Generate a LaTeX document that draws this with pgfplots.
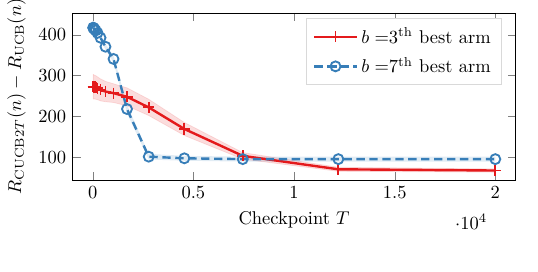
\documentclass[border=0pt]{standalone}
\usepackage{pgfplots}
\pgfplotsset{compat=1.18}
\usepgfplotslibrary{fillbetween}
\definecolor{cred}{RGB}{228,26,28}
\definecolor{cblue}{RGB}{55,126,184}
\begin{document}
\begin{tikzpicture}
\begin{axis}[
  scale only axis,
  width=239.5pt, height=90.3pt,
  xmin=-1000, xmax=21000,
  ymin=44, ymax=454,
  xtick={0,5000,10000,15000,20000},
  ytick={100,200,300,400},
  scaled x ticks=base 10:-4,
  xlabel={Checkpoint $T$},
  ylabel={$R_{\mathrm{CUCB2}T}(n)-R_{\mathrm{UCB}}(n)$},
  legend pos=north east,
  legend style={draw=black!15, font=\normalsize, row sep=2pt, inner xsep=4pt, inner ysep=3pt},
  legend cell align=left,
  legend image code/.code={\draw[mark repeat=2,mark phase=2] plot coordinates {(0cm,0cm)(0.4cm,0cm)(0.8cm,0cm)};},
]
% red band
\addplot[name path=rup, draw=none, forget plot] coordinates {
(20,303)(35,303)(55,302)(90,301)(145,300)(235,297)(385,292)(630,286)(1030,280)(1700,270)(2780,242)(4550,185)(7450,111)(12200,75)(20000,71)};
\addplot[name path=rlo, draw=none, forget plot] coordinates {
(20,243)(35,243)(55,242)(90,243)(145,242)(235,241)(385,238)(630,236)(1030,234)(1700,226)(2780,202)(4550,153)(7450,95)(12200,65)(20000,63)};
\addplot[cred, fill opacity=0.15, draw=cred, draw opacity=0.12, forget plot] fill between[of=rup and rlo];
% blue band
\addplot[name path=bup, draw=none, forget plot] coordinates {
(20,424)(35,423)(55,422)(90,420)(145,417)(235,411)(385,399)(630,378)(1030,349)(1700,228)(2780,108)(4550,103)(7450,101)(12200,101)(20000,101)};
\addplot[name path=blo, draw=none, forget plot] coordinates {
(20,412)(35,411)(55,410)(90,408)(145,405)(235,399)(385,387)(630,364)(1030,333)(1700,208)(2780,94)(4550,91)(7450,89)(12200,89)(20000,89)};
\addplot[cblue, fill opacity=0.15, draw=none, forget plot] fill between[of=bup and blo];
% lines
\addplot[cred, line width=1.3pt, mark=+, mark size=3pt, mark options={solid, line width=1pt}] coordinates {
(20,273)(35,273)(55,272)(90,272)(145,271)(235,269)(385,265)(630,261)(1030,257)(1700,248)(2780,222)(4550,169)(7450,103)(12200,70)(20000,67)};
\addlegendentry{$b=$3$^{\mathrm{th}}$ best arm}
\addplot[cblue, line width=1.3pt, dash pattern=on 4.5pt off 2.5pt, mark=o, mark size=2.7pt, mark options={solid, line width=1pt}] coordinates {
(20,418)(35,417)(55,416)(90,414)(145,411)(235,405)(385,393)(630,371)(1030,341)(1700,218)(2780,101)(4550,97)(7450,95)(12200,95)(20000,95)};
\addlegendentry{$b=$7$^{\mathrm{th}}$ best arm}
\end{axis}
\pgfresetboundingbox
\path (-39.3pt,-49.7pt) rectangle (251.7pt,97.3pt);
\end{tikzpicture}
\end{document}
